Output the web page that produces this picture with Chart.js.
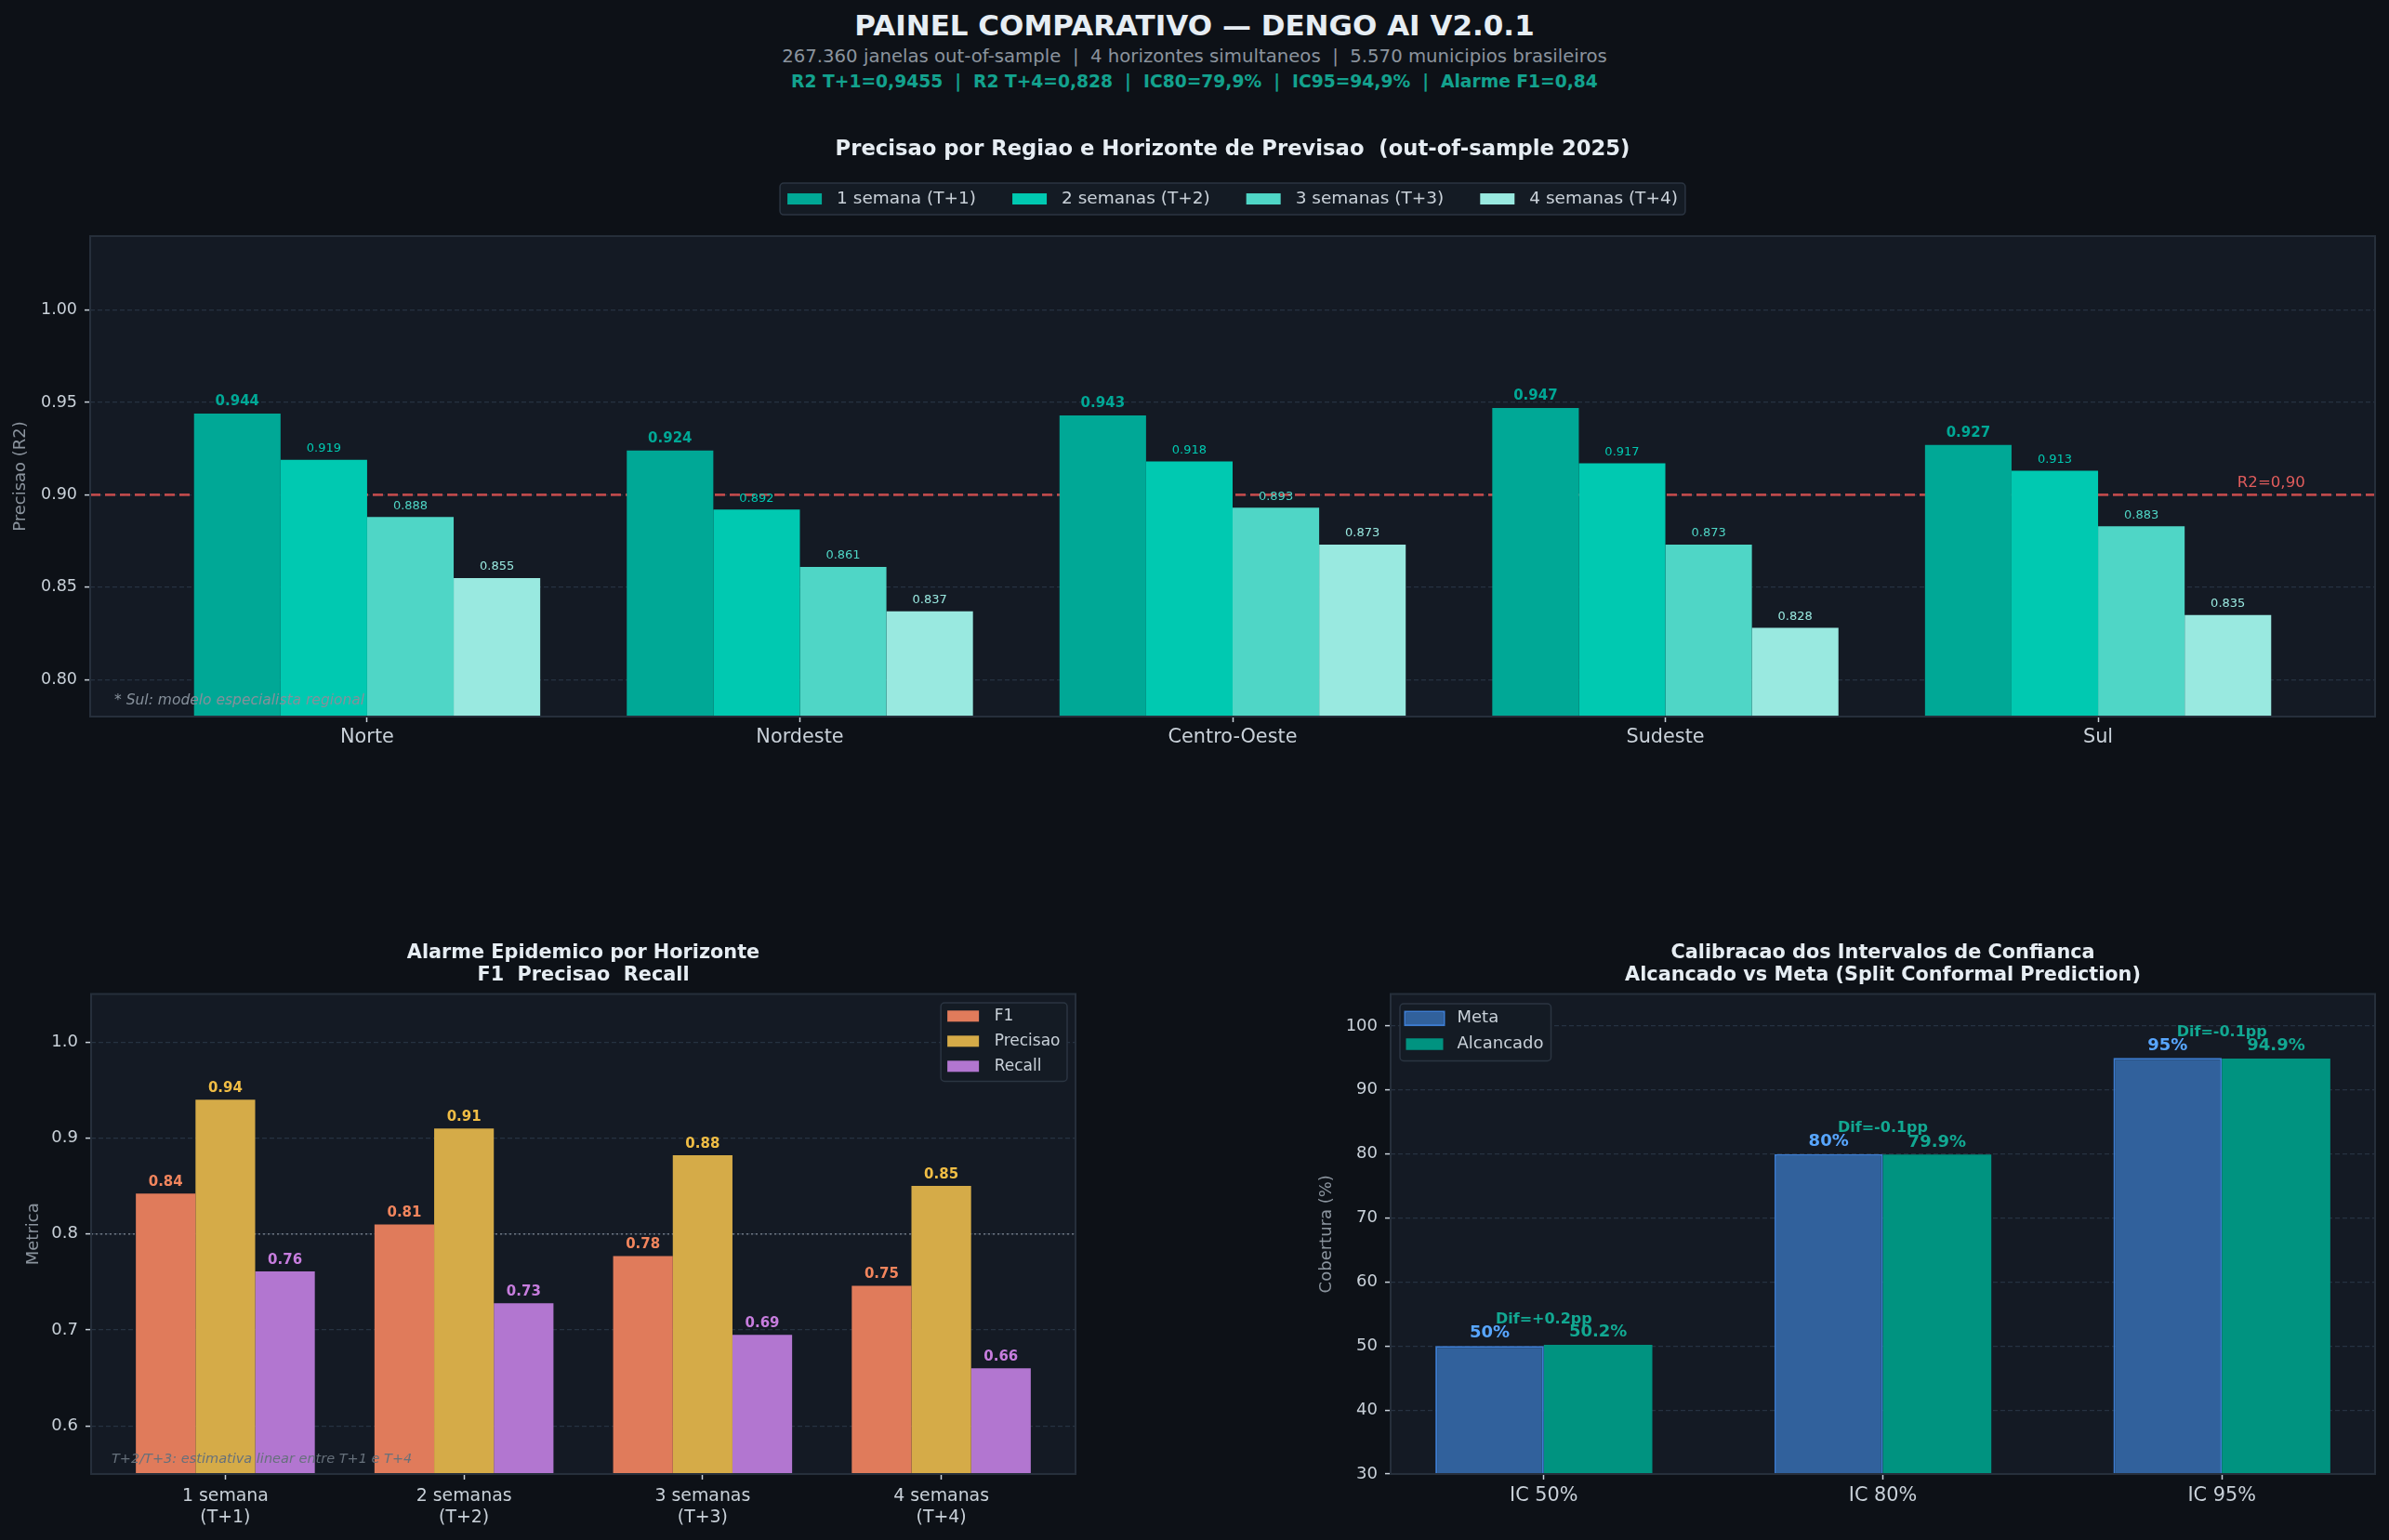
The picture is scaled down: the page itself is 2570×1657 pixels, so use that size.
<!DOCTYPE html>
<html>
<head>
<meta charset="utf-8">
<title>Painel comparativo Dengo AI</title>
<script src="https://cdn.jsdelivr.net/npm/chart.js@4.4.1/dist/chart.umd.min.js"></script>
<style>
  html, body { margin: 0; padding: 0; }
  body { width: 2570px; height: 1657px; background: #0d1117; overflow: hidden; position: relative; font-family: "DejaVu Sans", sans-serif; }
  .hdr { position: absolute; left: 0; width: 2570px; text-align: center; line-height: 1; white-space: pre; }
  .box { position: absolute; }
</style>
</head>
<body>
<div class="hdr" style="top:12px;font-size:31px;font-weight:bold;color:#e6edf3">PAINEL COMPARATIVO — DENGO AI V2.0.1</div>
<div class="hdr" style="top:50.5px;font-size:19.7px;color:#8b949e">267.360 janelas out-of-sample  |  4 horizontes simultaneos  |  5.570 municipios brasileiros</div>
<div class="hdr" style="top:79px;font-size:18.7px;font-weight:bold;color:#13a28e">R2 T+1=0,9455  |  R2 T+4=0,828  |  IC80=79,9%  |  IC95=94,9%  |  Alarme F1=0,84</div>

<div class="box" style="left:0;top:130px;width:2570px;height:700px"><canvas id="regionChart"></canvas></div>
<div class="box" style="left:0;top:990px;width:1180px;height:667px"><canvas id="alarmChart"></canvas></div>
<div class="box" style="left:1380px;top:990px;width:1190px;height:667px"><canvas id="calibChart"></canvas></div>

<script>
// precisao por regiao
const regions = ["Norte", "Nordeste", "Centro-Oeste", "Sudeste", "Sul"];
const horizonLabels = ["1 semana (T+1)", "2 semanas (T+2)", "3 semanas (T+3)", "4 semanas (T+4)"];
const r2T1 = [0.944, 0.924, 0.943, 0.947, 0.927];
const r2T2 = [0.919, 0.892, 0.918, 0.917, 0.913];
const r2T3 = [0.888, 0.861, 0.893, 0.873, 0.883];
const r2T4 = [0.855, 0.837, 0.873, 0.828, 0.835];
const r2Ticks = [0.80, 0.85, 0.90, 0.95, 1.00];
const r2Target = 0.90;

// alarme epidemico
const alarmHorizons = [["1 semana", "(T+1)"], ["2 semanas", "(T+2)"], ["3 semanas", "(T+3)"], ["4 semanas", "(T+4)"]];
const alarmSeries = ["F1", "Precisao", "Recall"];
const alarmF1 = [0.842, 0.810, 0.777, 0.746];
const alarmPrecision = [0.940, 0.910, 0.882, 0.850];
const alarmRecall = [0.761, 0.728, 0.695, 0.660];
const alarmTicks = [0.6, 0.7, 0.8, 0.9, 1.0];
const alarmRef = 0.8;

// calibracao dos intervalos
const ciLabels = ["IC 50%", "IC 80%", "IC 95%"];
const ciSeries = ["Meta", "Alcancado"];
const ciTarget = [50, 80, 95];
const ciAchieved = [50.2, 79.9, 94.9];
const coverageTicks = [30, 40, 50, 60, 70, 80, 90, 100];

const TXT = "#e6edf3";
const TICK = "#c9d1d9";
const MUTED = "#8b949e";
const GRID = "#263241";
const PLOT_BG = "#141a24";
const FRAME = "#262f3b";
const FONT = "DejaVu Sans";

Chart.defaults.font.family = FONT;
Chart.defaults.color = TICK;

function xRange(n, group) {
    let pad = 0.05 * (n - 1 + group);
    return { min: -group / 2 - pad, max: n - 1 + group / 2 + pad };
}

function toPoints(values) {
    return values.map((v, i) => ({ x: i, y: v }));
}

let plotFrame = {
    id: "plotFrame",
    beforeDraw(chart) {
        let { ctx, chartArea: a } = chart;
        ctx.save();
        ctx.fillStyle = PLOT_BG;
        ctx.fillRect(a.left, a.top, a.width, a.height);
        ctx.restore();
    },
    afterDatasetsDraw(chart) {
        let { ctx, chartArea: a } = chart;
        ctx.save();
        ctx.strokeStyle = FRAME;
        ctx.lineWidth = 2;
        ctx.strokeRect(a.left, a.top, a.width, a.height);
        ctx.restore();
    }
};

function legendBox(o) {
    return {
        id: "legendBox",
        afterDatasetsDraw(chart) {
            let { ctx, chartArea: a } = chart;
            let items = chart.data.datasets.map(ds => ({
                text: ds.label,
                fill: ds.backgroundColor,
                stroke: ds.borderWidth ? ds.borderColor : null
            }));
            ctx.save();
            ctx.font = o.font;
            let tw = items.map(it => ctx.measureText(it.text).width);
            let w, h;
            if (o.row) {
                w = o.pad * 2 + tw.reduce((s, t) => s + o.swW + o.swGap + t, 0) + o.itemGap * (items.length - 1);
                h = o.height;
            } else {
                w = o.pad + o.swW + o.swGap + Math.max(...tw) + o.padR;
                h = o.padTop + o.rowH * (items.length - 1) + o.padBottom;
            }
            let x0 = o.align === "center" ? (a.left + a.right - w) / 2
                : o.align === "right" ? a.right - o.dx - w : a.left + o.dx;
            let y0 = a.top + o.dy;
            ctx.beginPath();
            if (ctx.roundRect) ctx.roundRect(x0, y0, w, h, 4); else ctx.rect(x0, y0, w, h);
            ctx.fillStyle = o.bg;
            ctx.fill();
            ctx.lineWidth = 1.5;
            ctx.strokeStyle = o.edge;
            ctx.stroke();
            ctx.textBaseline = "middle";
            ctx.textAlign = "left";
            let cx = x0 + o.pad;
            items.forEach((it, i) => {
                let cy = o.row ? y0 + h / 2 : y0 + o.padTop + i * o.rowH;
                let sx = o.row ? cx : x0 + o.pad;
                ctx.fillStyle = it.fill;
                ctx.fillRect(sx, cy - o.swH / 2, o.swW, o.swH);
                if (it.stroke) {
                    ctx.lineWidth = 2;
                    ctx.strokeStyle = it.stroke;
                    ctx.strokeRect(sx - 1, cy - o.swH / 2 - 1, o.swW + 2, o.swH + 2);
                }
                ctx.fillStyle = o.color;
                ctx.fillText(it.text, sx + o.swW + o.swGap, cy);
                cx += o.swW + o.swGap + tw[i] + o.itemGap;
            });
            ctx.restore();
        }
    };
}

function refLine(o) {
    return {
        id: "refLine",
        beforeDatasetsDraw(chart) {
            let { ctx, chartArea: a, scales } = chart;
            let py = scales.y.getPixelForValue(o.value);
            ctx.save();
            ctx.strokeStyle = o.color;
            ctx.lineWidth = o.width;
            ctx.setLineDash(o.dash);
            ctx.beginPath();
            ctx.moveTo(a.left, py);
            ctx.lineTo(a.right, py);
            ctx.stroke();
            ctx.restore();
        },
        afterDatasetsDraw(chart) {
            if (!o.label) return;
            let { ctx, scales } = chart;
            ctx.save();
            ctx.font = o.labelFont;
            ctx.fillStyle = o.labelColor;
            ctx.textAlign = "center";
            ctx.textBaseline = "middle";
            ctx.fillText(o.label, scales.x.getPixelForValue(o.labelAt), scales.y.getPixelForValue(o.value) - o.labelGap);
            ctx.restore();
        }
    };
}

function valueLabels(styles) {
    return {
        id: "valueLabels",
        afterDatasetsDraw(chart) {
            let ctx = chart.ctx;
            chart.data.datasets.forEach((ds, i) => {
                let st = styles[i];
                chart.getDatasetMeta(i).data.forEach((bar, j) => {
                    ctx.save();
                    ctx.font = st.font;
                    ctx.fillStyle = st.color;
                    ctx.textAlign = "center";
                    ctx.textBaseline = "middle";
                    ctx.fillText(st.fmt(ds.data[j].y), bar.x, bar.y - st.gap);
                    ctx.restore();
                });
            });
        }
    };
}

function footnote(o) {
    return {
        id: "footnote",
        afterDatasetsDraw(chart) {
            let { ctx, chartArea: a } = chart;
            ctx.save();
            ctx.font = o.font;
            ctx.fillStyle = o.color;
            ctx.textAlign = "left";
            ctx.textBaseline = "middle";
            ctx.fillText(o.text, a.left + o.dx, a.bottom - o.dy);
            ctx.restore();
        }
    };
}

let diffLabels = {
    id: "diffLabels",
    afterDatasetsDraw(chart) {
        let { ctx, scales } = chart;
        ctx.save();
        ctx.font = "bold 16px " + FONT;
        ctx.fillStyle = "#12a892";
        ctx.textAlign = "center";
        ctx.textBaseline = "middle";
        ciTarget.forEach((t, i) => {
            let d = ciAchieved[i] - t;
            let txt = "Dif=" + (d >= 0 ? "+" : "") + d.toFixed(1) + "pp";
            let top = scales.y.getPixelForValue(Math.max(t, ciAchieved[i]));
            ctx.fillText(txt, scales.x.getPixelForValue(i), top - 27.5);
        });
        ctx.restore();
    }
};

function axisX(range, labels, fontSize, pad, height) {
    return {
        type: "linear",
        min: range.min,
        max: range.max,
        offset: false,
        afterBuildTicks: s => { s.ticks = labels.map((_, i) => ({ value: i })); },
        afterFit: s => { s.height = height; },
        ticks: {
            callback: v => labels[v],
            font: { size: fontSize, lineHeight: 1.233 },
            color: TICK,
            padding: pad,
            autoSkip: false,
            maxRotation: 0
        },
        grid: { display: true, drawOnChartArea: false, drawTicks: true, tickLength: 6, tickColor: TICK, tickWidth: 1.5, offset: false },
        border: { display: false }
    };
}

function axisY(min, max, tickValues, decimals, fontSize, width, title, titlePad) {
    return {
        min: min,
        max: max,
        afterBuildTicks: s => { s.ticks = tickValues.map(v => ({ value: v })); },
        afterFit: s => { s.width = width; },
        ticks: { callback: v => v.toFixed(decimals), font: { size: fontSize }, color: TICK, padding: 8 },
        grid: { color: GRID, lineWidth: 1.2, tickLength: 6, tickColor: TICK, tickWidth: 1.5 },
        border: { display: false, dash: [5, 3] },
        title: { display: true, text: title, color: MUTED, font: { size: 18 }, padding: { top: titlePad, bottom: 0 } }
    };
}

function baseOptions(title, titleFont, titlePad, padRight, scales) {
    return {
        responsive: true,
        maintainAspectRatio: false,
        animation: false,
        devicePixelRatio: 1,
        layout: { padding: { left: 0, right: padRight, top: 0, bottom: 0 } },
        plugins: {
            legend: { display: false },
            tooltip: { enabled: false },
            title: { display: true, fullSize: false, text: title, color: TXT, font: titleFont, padding: titlePad }
        },
        scales: scales
    };
}

// grafico 1: precisao por regiao
let horizonColors = ["#00a896", "#00c9b1", "#4fd6c6", "#99e9e0"];
new Chart(document.getElementById("regionChart"), {
    type: "bar",
    data: {
        datasets: [r2T1, r2T2, r2T3, r2T4].map((vals, i) => ({
            label: horizonLabels[i],
            data: toPoints(vals),
            backgroundColor: horizonColors[i],
            borderWidth: 0,
            categoryPercentage: 0.8,
            barPercentage: 1.0
        }))
    },
    options: baseOptions(
        "Precisao por Regiao e Horizonte de Previsao  (out-of-sample 2025)",
        { size: 22.7, weight: "bold", lineHeight: 1.2 },
        { top: 17, bottom: 79.8 },
        15,
        {
            x: axisX(xRange(regions.length, 0.8), regions, 20.8, 3.5, 59),
            y: axisY(0.78, 1.04, r2Ticks, 2, 17.5, 97, "Precisao (R2)", 11.2)
        }
    ),
    plugins: [
        plotFrame,
        refLine({ value: r2Target, color: "rgba(224,82,82,0.82)", width: 2.6, dash: [11, 5],
            label: "R2=0,90", labelAt: 4.4, labelGap: 12.5, labelFont: "16.6px " + FONT, labelColor: "#e05c5c" }),
        valueLabels(horizonColors.map((c, i) => ({
            font: (i === 0 ? "bold 15px " : "13px ") + FONT,
            color: c,
            gap: i === 0 ? 12.5 : 12,
            fmt: v => v.toFixed(3)
        }))),
        footnote({ text: "* Sul: modelo especialista regional", font: "italic 15.5px " + FONT, color: "#86909b", dx: 26, dy: 17 }),
        legendBox({ row: true, align: "center", dy: -57, height: 34, pad: 8, swW: 37, swH: 12, swGap: 16, itemGap: 39,
            font: "18.5px " + FONT, color: TICK, bg: "#141b24", edge: "#2b3542" })
    ]
});

// grafico 2: alarme epidemico
let alarmColors = ["#e07b5b", "#d5ab48", "#b276d0"];
let alarmLabelColors = ["#f2855d", "#f0bd45", "#c77dde"];
new Chart(document.getElementById("alarmChart"), {
    type: "bar",
    data: {
        datasets: [alarmF1, alarmPrecision, alarmRecall].map((vals, i) => ({
            label: alarmSeries[i],
            data: toPoints(vals),
            backgroundColor: alarmColors[i],
            borderWidth: 0,
            categoryPercentage: 0.75,
            barPercentage: 1.0
        }))
    },
    options: baseOptions(
        ["Alarme Epidemico por Horizonte", "F1  Precisao  Recall"],
        { size: 20.8, weight: "bold", lineHeight: 1.13 },
        { top: 24, bottom: 8.5 },
        23,
        {
            x: axisX(xRange(alarmHorizons.length, 0.75), alarmHorizons, 18.9, 6, 71),
            y: axisY(0.55, 1.05, alarmTicks, 1, 18, 98, "Metrica", 25.2)
        }
    ),
    plugins: [
        plotFrame,
        refLine({ value: alarmRef, color: "#6e7681", width: 1.6, dash: [2, 3] }),
        valueLabels(alarmLabelColors.map(c => ({ font: "bold 15px " + FONT, color: c, gap: 12, fmt: v => v.toFixed(2) }))),
        footnote({ text: "T+2/T+3: estimativa linear entre T+1 e T+4", font: "italic 14.5px " + FONT, color: "#66707b", dx: 22, dy: 15.4 }),
        legendBox({ row: false, align: "right", dx: 9, dy: 9.5, pad: 7, padR: 7.5, padTop: 14.3, rowH: 27, padBottom: 16.2,
            swW: 34, swH: 12, swGap: 16.6, font: "17px " + FONT, color: TICK, bg: "#141b24", edge: "#2b3542" })
    ]
});

// grafico 3: calibracao dos intervalos de confianca
new Chart(document.getElementById("calibChart"), {
    type: "bar",
    data: {
        datasets: [
            {
                label: ciSeries[0],
                data: toPoints(ciTarget),
                backgroundColor: "#31619c",
                borderColor: "#3d7dd1",
                borderWidth: 2,
                borderSkipped: false,
                categoryPercentage: 0.64,
                barPercentage: 1.0
            },
            {
                label: ciSeries[1],
                data: toPoints(ciAchieved),
                backgroundColor: "#009380",
                borderWidth: 0,
                categoryPercentage: 0.64,
                barPercentage: 1.0
            }
        ]
    },
    options: baseOptions(
        ["Calibracao dos Intervalos de Confianca", "Alcancado vs Meta (Split Conformal Prediction)"],
        { size: 20.8, weight: "bold", lineHeight: 1.13 },
        { top: 24, bottom: 8.5 },
        15,
        {
            x: axisX(xRange(ciLabels.length, 0.64), ciLabels, 20.8, 5.2, 71),
            y: axisY(30, 105, coverageTicks, 0, 18, 116, "Cobertura (%)", 36.2)
        }
    ),
    plugins: [
        plotFrame,
        valueLabels([
            { font: "bold 18px " + FONT, color: "#58a6ff", gap: 13.5, fmt: v => v + "%" },
            { font: "bold 18px " + FONT, color: "#12a892", gap: 13.5, fmt: v => v.toFixed(1) + "%" }
        ]),
        diffLabels,
        legendBox({ row: false, align: "left", dx: 10, dy: 10.5, pad: 6.5, padR: 8, padTop: 15.8, rowH: 27.7, padBottom: 18,
            swW: 40, swH: 12.5, swGap: 15, font: "18px " + FONT, color: TICK, bg: "#141b24", edge: "#2b3542" })
    ]
});
</script>
</body>
</html>
